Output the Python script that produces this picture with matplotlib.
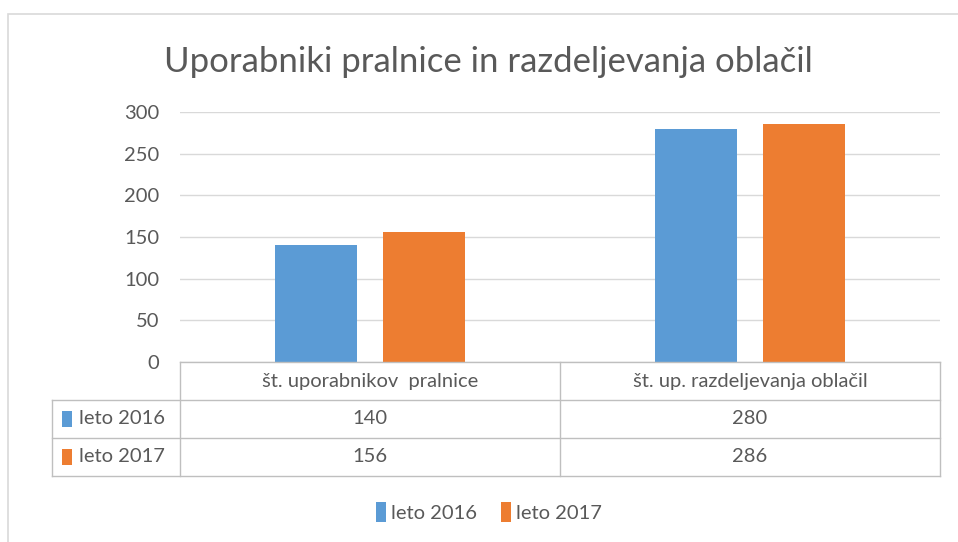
import matplotlib
matplotlib.use("Agg")
import matplotlib.pyplot as plt
from matplotlib.patches import Patch, Rectangle
import numpy as np

plt.rcParams['font.family'] = ['Lato', 'DejaVu Sans']

categories = ["št. uporabnikov  pralnice", "št. up. razdeljevanja oblačil"]
series_names = ["leto 2016", "leto 2017"]
values_2016 = [140, 280]
values_2017 = [156, 286]
yticks = [0, 50, 100, 150, 200, 250, 300]
title = "Uporabniki pralnice in razdeljevanja oblačil"

colors = ["#5B9BD5", "#ED7D31"]
text_col = "#595959"
grid_col = "#d9d9d9"
border_col = "#bfbfbf"
fs = 14.5

W, H = 958, 542
fig = plt.figure(figsize=(W / 100, H / 100), dpi=100)

# outer chart frame
fig.patches.append(Rectangle((8 / W, -0.1), 1.2, 1.1 - 14 / H, transform=fig.transFigure,
                             fill=False, edgecolor=grid_col, linewidth=1.2))

ax = fig.add_axes([180 / W, (H - 362) / H, 760 / W, 250 / H])
x = np.arange(len(categories))
bw = 0.218
off = 0.142
ax.bar(x - off, values_2016, bw, color=colors[0])
ax.bar(x + off, values_2017, bw, color=colors[1])
ax.set_xlim(-0.5, 1.5)
ax.set_ylim(0, 300)
ax.set_yticks(yticks)
ax.yaxis.grid(True, color=grid_col, linewidth=1)
ax.set_axisbelow(True)
for s in ax.spines.values():
    s.set_visible(False)
ax.set_xticks([])
ax.tick_params(axis='y', length=0, pad=15, labelsize=fs, labelcolor=text_col)

fig.text(488 / W, 1 - 62 / H, title, ha='center', va='center', fontsize=25,
         color=text_col)

# data table below the plot
left_w = 128 / 380
tab = fig.add_axes([52 / W, (H - 476) / H, 888 / W, 114 / H])
tab.set_xlim(-0.5 - left_w, 1.5)
tab.set_ylim(3, 0)
tab.axis('off')
lw = 1
for xv in [-0.5, 0.5, 1.5]:
    tab.plot([xv, xv], [0, 3], color=border_col, lw=lw, clip_on=False)
tab.plot([-0.5 - left_w] * 2, [1, 3], color=border_col, lw=lw, clip_on=False)
tab.plot([-0.5, 1.5], [0, 0], color=border_col, lw=lw, clip_on=False)
for yv in [1, 2, 3]:
    tab.plot([-0.5 - left_w, 1.5], [yv, yv], color=border_col, lw=lw, clip_on=False)

for i, c in enumerate(categories):
    tab.text(i, 0.5, c, ha='center', va='center', fontsize=fs, color=text_col)
rows = [values_2016, values_2017]
for r, (name, vals) in enumerate(zip(series_names, rows)):
    yc = r + 1.5
    tab.add_patch(Rectangle((-0.5 - left_w + 0.027, yc - 0.2), 0.026, 0.4,
                            facecolor=colors[r], edgecolor='none'))
    tab.text(-0.5 - left_w + 0.072, yc, name, ha='left', va='center', fontsize=fs, color=text_col)
    for i, v in enumerate(vals):
        tab.text(i, yc, str(v), ha='center', va='center', fontsize=fs, color=text_col)

handles = [Patch(facecolor=colors[0]), Patch(facecolor=colors[1])]
fig.legend(handles, series_names, loc='center', bbox_to_anchor=(489 / W, 30 / H), ncol=2,
           frameon=False, handlelength=0.5, handleheight=1.1, handletextpad=0.25,
           columnspacing=1.2, fontsize=fs, labelcolor=text_col)

fig.savefig("out.png", dpi=100)
